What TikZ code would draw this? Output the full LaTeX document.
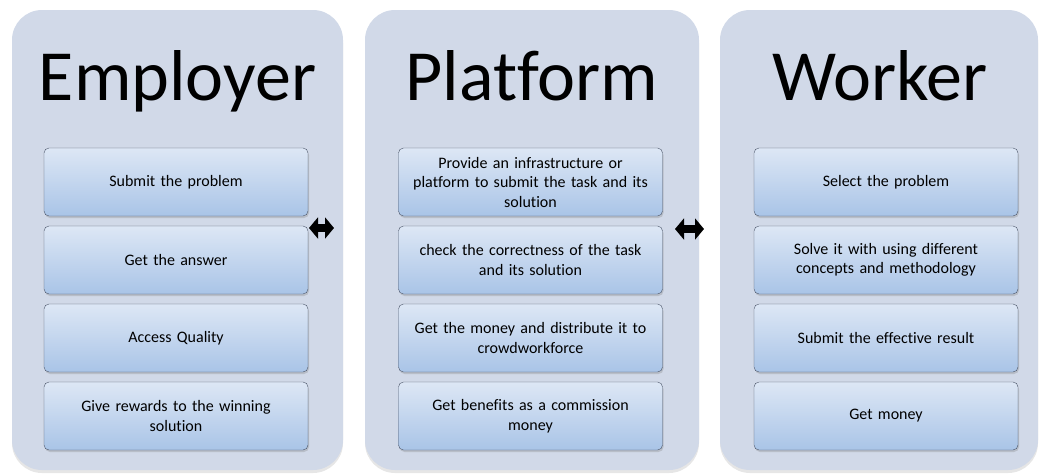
\documentclass[tikz,border=0pt]{standalone}
\usepackage{fontspec}
\setmainfont{Carlito}[Ligatures=NoCommon]
\usetikzlibrary{arrows.meta,shadows}
\definecolor{panelfill}{HTML}{D1D9E8}
\definecolor{boxtop}{HTML}{DDE7F5}
\definecolor{boxbot}{HTML}{A9C4E7}
\definecolor{boxline}{HTML}{4A5468}

\begin{document}
\begin{tikzpicture}[x=1pt,y=-1pt,
            panel/.style={
              rectangle,
              rounded corners=30pt,
              fill=panelfill,
              minimum height=460pt,
              drop shadow={opacity=0.2,shadow xshift=0pt,shadow yshift=-3pt}
            },
            title/.style={
              anchor=base,
              font=\fontsize{72}{80}\selectfont
            },
            box/.style={
              draw=boxline,
              rounded corners=5pt,
              top color=boxtop,
              bottom color=boxbot,
              minimum width=264pt,
              minimum height=68pt,
              text width=250pt,
              align=center,
              font=\fontsize{16}{19.5}\selectfont,
              drop shadow={opacity=0.3,shadow xshift=1pt,shadow yshift=-2pt}
            },
            swap/.style={
              line width=8pt,
              >={Triangle[length=9pt,width=21pt]},
              <->
            }
        ]
    \useasboundingbox (0,0) rectangle (1040,474);

    \node[panel,minimum width=331pt] (employer) at (177.5,240) {};
    \node[panel,minimum width=334pt] (platform) at (532,240) {};
    \node[panel,minimum width=318pt] (worker) at (879,240) {};

    \node[title] (employerT) at (177.5,100) {Employer};
    \node[title] (platformT) at (532,100) {Platform};
    \node[title] (workerT) at (880,100) {Worker};

    \foreach \i/\t in {1/Submit the problem, 2/Get the answer, 3/Access Quality,
                       4/Give rewards to the winning\\solution}
        \node[box] (emp\i) at (176,{104+78*\i}) {\t};

    \foreach \i/\t in {1/Provide an infrastructure or\\platform to submit the task and its\\solution,
                       2/check the correctness of the task\\and its solution,
                       3/Get the money and distribute it to\\crowdworkforce,
                       4/Get benefits as a commission\\money}
        \node[box] (plat\i) at (530.5,{104+78*\i}) {\t};

    \foreach \i/\t in {1/Select the problem,
                       2/Solve it with using different\\concepts and methodology,
                       3/Submit the effective result, 4/Get money}
        \node[box] (work\i) at (886,{104+78*\i}) {\t};

    % double arrows between the columns
    \coordinate (swapAl) at (309,228);
    \coordinate (swapAr) at (334,228);
    \coordinate (swapBl) at (675,229);
    \coordinate (swapBr) at (704,229);
    \draw[swap] (swapAl) -- (swapAr);
    \draw[swap] (swapBl) -- (swapBr);

    \end{tikzpicture}
\end{document}
